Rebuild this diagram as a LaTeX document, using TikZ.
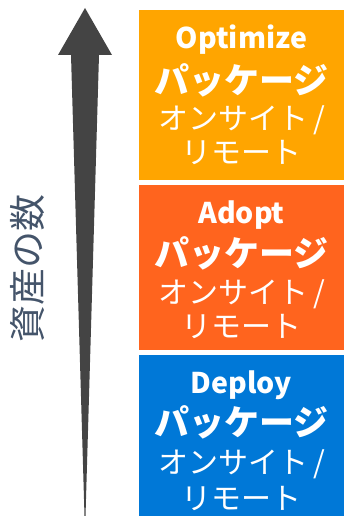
\documentclass[tikz,border=0pt]{standalone}
\usepackage{fontspec}
\setmainfont{Noto Sans CJK JP}
\definecolor{optc}{HTML}{FFA500}
\definecolor{adoc}{HTML}{FF641E}
\definecolor{depc}{HTML}{0078D7}
\definecolor{arrc}{HTML}{444444}
\definecolor{labc}{HTML}{44546A}
\tikzset{
  pkgbox/.style={draw=none,rectangle,anchor=north west,minimum width=205pt,inner sep=0pt},
  titletext/.style={text=white,font=\bfseries\fontsize{28.5}{30}\selectfont,inner sep=0pt},
  pkgtext/.style={text=white,font=\bfseries\fontsize{35}{36}\selectfont,inner sep=0pt},
  subtext/.style={text=white,font=\fontsize{30}{32}\selectfont,inner sep=0pt},
}
\begin{document}
\begin{tikzpicture}[x=1pt,y=-1pt]
\useasboundingbox (0,0) rectangle (344,516);
% arrow
\fill[arrc] (85,8) -- (112,55) -- (99,55) -- (85.5,516) -- (84.5,516) -- (71,55) -- (58,55) -- cycle;
\node[text=labc,font=\fontsize{37}{38}\selectfont,rotate=90,inner sep=0pt] (lab) at (27,268) {資産の数};
% boxes
\node[pkgbox,fill=optc,minimum height=170pt] (bo) at (139,10) {};
\node[pkgbox,fill=adoc,minimum height=165pt] (ba) at (139,185) {};
\node[pkgbox,fill=depc,minimum height=161pt] (bd) at (139,355) {};
% Optimize
\node[titletext] (o1) at (241.5,40) {Optimize};
\node[pkgtext] (o2) at (241.5,80) {パッケージ};
\node[subtext] (o3) at (241.5,120) {オンサイト\,/};
\node[subtext] (o4) at (241.5,153) {リモート};
% Adopt
\node[titletext] (a1) at (241.5,215) {Adopt};
\node[pkgtext] (a2) at (241.5,253) {パッケージ};
\node[subtext] (a3) at (241.5,294) {オンサイト\,/};
\node[subtext] (a4) at (241.5,327) {リモート};
% Deploy
\node[titletext] (d1) at (241.5,385) {Deploy};
\node[pkgtext] (d2) at (241.5,422) {パッケージ};
\node[subtext] (d3) at (241.5,464) {オンサイト\,/};
\node[subtext] (d4) at (241.5,498) {リモート};
\end{tikzpicture}
\end{document}
